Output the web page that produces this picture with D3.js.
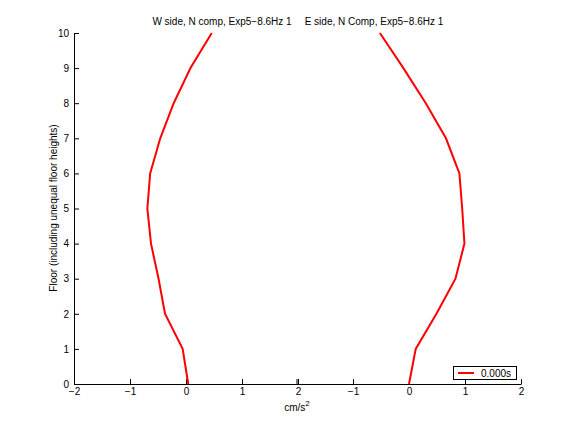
<!DOCTYPE html>
<html><head><meta charset="utf-8">
<script src="https://cdn.jsdelivr.net/npm/d3@7"></script>
<style>body{margin:0;background:#fff}svg{display:block}text{font-family:"Liberation Sans",Arial,sans-serif;font-size:10px;fill:#000}</style>
</head><body>
<script>
const floors = [0,1,2,3,4,5,6,7,8,9,10];
const westN = [0.04,-0.06,-0.375,-0.49,-0.625,-0.69,-0.64,-0.46,-0.22,0.08,0.46];
const eastN = [0.0,0.12,0.49,0.83,0.99,0.95,0.90,0.66,0.30,-0.10,-0.52];
const xTicksLeft = [-2,-1,0,1,2];
const xTicksRight = [-1,0,1,2];
const yTicks = [0,1,2,3,4,5,6,7,8,9,10];
const titles = ["W side, N comp, Exp5\u22128.6Hz 1","E side, N Comp, Exp5\u22128.6Hz 1"];
const legendLabel = "0.000s";

const W=576,H=432;
const svg=d3.select("body").append("svg").attr("width",W).attr("height",H);
const y=d3.scaleLinear().domain([0,10]).range([384,33]);
const xL=d3.scaleLinear().domain([-2,2]).range([74,298]);
const xR=d3.scaleLinear().domain([-2,2]).range([297,521]);

function fmt(d){return d<0?"\u2212"+Math.abs(d):String(d);}

svg.append("g").attr("transform","translate(0,384)")
  .call(d3.axisBottom(xL).tickValues(xTicksLeft).tickSizeInner(-5).tickSizeOuter(0).tickPadding(4).tickFormat(fmt));
svg.append("g").attr("transform","translate(0,384)")
  .call(d3.axisBottom(xR).tickValues(xTicksRight).tickSizeInner(-5).tickSizeOuter(0).tickPadding(4).tickFormat(fmt));
svg.append("g").attr("transform","translate(74,0)")
  .call(d3.axisLeft(y).tickValues(yTicks).tickSizeInner(-5).tickSizeOuter(0).tickPadding(5).tickFormat(d3.format("d")));
svg.selectAll(".domain").attr("stroke","#000");
svg.selectAll(".tick line").attr("stroke","#000");
svg.selectAll(".tick text").style("font-family","'Liberation Sans',Arial,sans-serif").style("font-size","10px").attr("fill","#000");
svg.append("line").attr("x1",xR(-2)).attr("x2",xR(-2)).attr("y1",384).attr("y2",379).attr("stroke","#000");

const line=(xs)=>d3.line().x(d=>xs(d)).y((d,i)=>y(floors[i]));
svg.append("path").datum(westN).attr("d",line(xL)).attr("fill","none").attr("stroke","#ff0000").attr("stroke-width",2);
svg.append("path").datum(eastN).attr("d",line(xR)).attr("fill","none").attr("stroke","#ff0000").attr("stroke-width",2);

svg.append("text").attr("x",222).attr("y",25).attr("text-anchor","middle").text(titles[0]);
svg.append("text").attr("x",374).attr("y",25).attr("text-anchor","middle").text(titles[1]);

const xl=svg.append("text").attr("x",297).attr("y",411).attr("text-anchor","middle");
xl.append("tspan").text("cm/s");
xl.append("tspan").attr("dy",-5).style("font-size","8px").text("2");

svg.append("text").attr("transform","translate(57,208) rotate(-90)").attr("text-anchor","middle").text("Floor (including unequal floor heights)");

const lg=svg.append("g");
lg.append("rect").attr("x",453.5).attr("y",366.5).attr("width",63).attr("height",13).attr("fill","#fff").attr("stroke","#000");
lg.append("line").attr("x1",458).attr("x2",474).attr("y1",373).attr("y2",373).attr("stroke","#ff0000").attr("stroke-width",2);
lg.append("text").attr("x",481).attr("y",377).text(legendLabel);
</script>
</body></html>
